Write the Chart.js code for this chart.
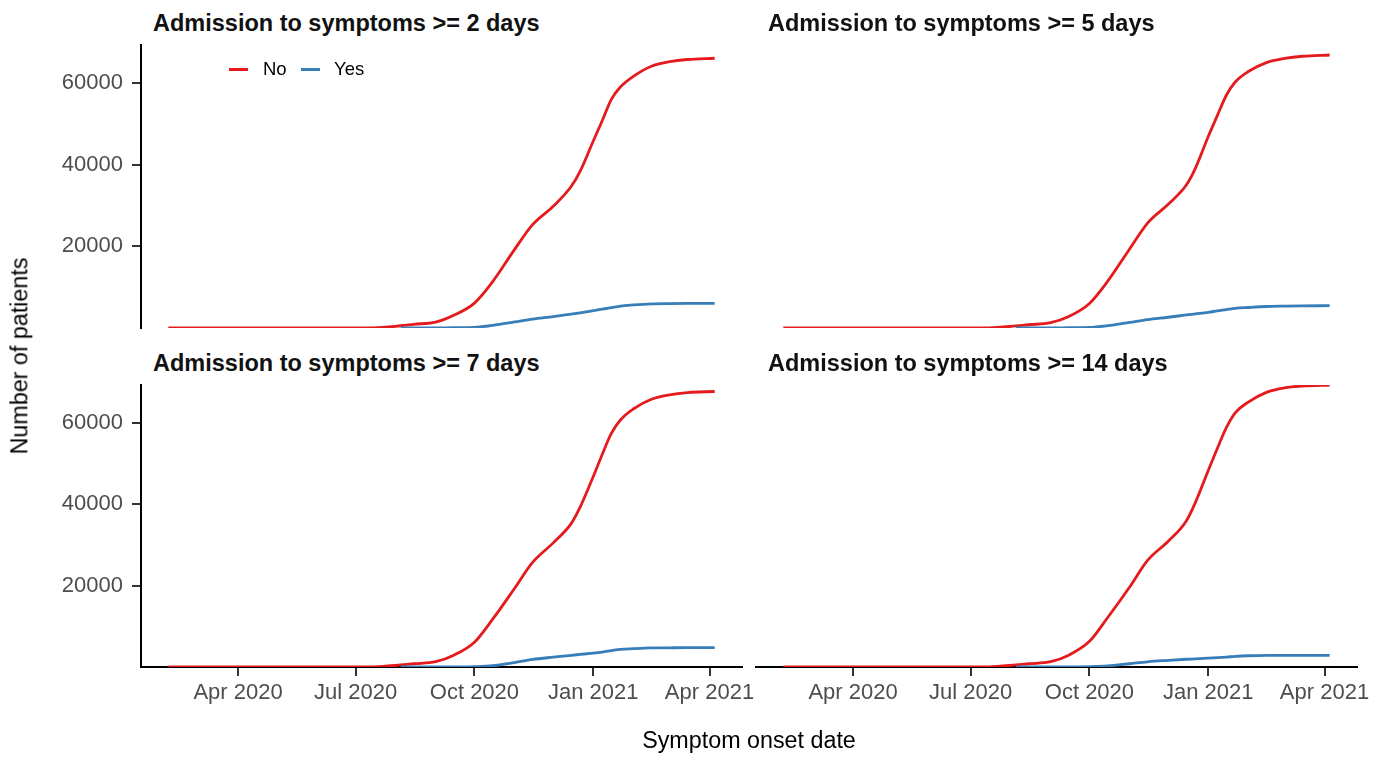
<!DOCTYPE html>
<html>
<head>
<meta charset="utf-8">
<script src="https://cdn.jsdelivr.net/npm/chart.js@4.4.1/dist/chart.umd.min.js"></script>
<style>
  body { margin: 0; background: #fff; }
  #wrap { position: relative; width: 1387px; height: 757px; overflow: hidden; font-family: "Liberation Sans", Arial, sans-serif; }
  canvas { position: absolute; }
  .title { position: absolute; font-weight: bold; font-size: 23.5px; line-height: 23.5px; color: #111; white-space: nowrap; }
  .axtitle { position: absolute; font-size: 23.3px; line-height: 23.3px; color: #000; white-space: nowrap; transform: translate(-50%, -50%); }
  .key { position: absolute; height: 3px; width: 19px; }
  .ltext { position: absolute; font-size: 18.5px; line-height: 18.5px; color: #000; }
</style>
</head>
<body>
<div id="wrap">
  <canvas id="c0"></canvas>
  <canvas id="c1"></canvas>
  <canvas id="c2"></canvas>
  <canvas id="c3"></canvas>
  <div class="title" id="t0"></div>
  <div class="title" id="t1"></div>
  <div class="title" id="t2"></div>
  <div class="title" id="t3"></div>
  <div class="key" style="left:229px; top:68px; background:#E41A1C;"></div>
  <div class="ltext" style="left:263px; top:60px;">No</div>
  <div class="key" style="left:301px; top:68px; background:#377EB8;"></div>
  <div class="ltext" style="left:334px; top:60px;">Yes</div>
  <div class="axtitle" style="left:20px; top:356px; transform: translate(-50%, -50%) rotate(-90deg);">Number of patients</div>
  <div class="axtitle" style="left:749px; top:741px;">Symptom onset date</div>
</div>
<script>
// symptom onset dates (cumulative counts)
const dates = ["2020-02-07", "2020-04-01", "2020-06-01", "2020-07-15", "2020-08-05", "2020-08-15",
  "2020-09-01", "2020-09-15", "2020-10-01", "2020-10-15", "2020-11-01", "2020-11-15",
  "2020-12-01", "2020-12-15", "2020-12-22", "2021-01-01", "2021-01-08", "2021-01-15",
  "2021-01-22", "2021-02-01", "2021-02-15", "2021-03-01", "2021-03-15", "2021-04-05"];

const no2 = [0, 0, 0, 50, 550, 900, 1450, 3100, 6100, 11300, 19200, 25300, 29800, 34700, 38500, 45800, 50800, 56000, 59000, 61600, 64100, 65200, 65750, 66050];
const yes2 = [null, null, null, null, 0, 0, 20, 60, 120, 650, 1480, 2190, 2800, 3410, 3700, 4260, 4600, 4990, 5380, 5640, 5890, 5960, 6010, 6050];
const no5 = [0, 0, 0, 50, 500, 800, 1300, 2800, 6000, 11400, 19300, 25700, 30300, 35000, 39100, 46900, 52000, 57000, 60300, 62800, 65000, 66000, 66550, 66850];
const yes5 = [null, null, null, null, 0, 0, 20, 60, 130, 560, 1350, 2030, 2630, 3190, 3460, 3850, 4180, 4490, 4810, 5020, 5260, 5350, 5410, 5460];
const no7 = [0, 0, 0, 50, 500, 800, 1300, 2900, 6100, 11700, 19300, 25700, 30500, 35300, 39400, 46800, 52300, 57400, 60700, 63400, 65800, 66900, 67450, 67700];
const yes7 = [null, null, null, null, 0, 0, 10, 40, 100, 320, 1100, 1850, 2420, 2880, 3100, 3420, 3680, 4010, 4330, 4510, 4690, 4720, 4740, 4750];
const no14 = [0, 0, 0, 50, 500, 800, 1300, 2900, 6300, 12100, 19600, 26200, 30900, 35900, 40400, 48300, 53700, 58800, 62500, 65100, 67500, 68600, 69050, 69300];
const yes14 = [null, null, null, null, 0, 0, 10, 30, 80, 250, 800, 1280, 1630, 1900, 2000, 2170, 2300, 2450, 2620, 2760, 2860, 2870, 2870, 2870];

const panelTitles = ["Admission to symptoms >= 2 days", "Admission to symptoms >= 5 days",
  "Admission to symptoms >= 7 days", "Admission to symptoms >= 14 days"];
const seriesLabels = ["No", "Yes"];

const tickDates = ["2020-04-01", "2020-07-01", "2020-10-01", "2021-01-01", "2021-04-01"];
const tickLabels = ["Apr 2020", "Jul 2020", "Oct 2020", "Jan 2021", "Apr 2021"];
const yTicks = [20000, 40000, 60000];

const toDay = s => Date.parse(s + "T00:00:00Z") / 86400000;
const days = dates.map(toDay);
const tickDays = tickDates.map(toDay);

// ggplot-like 5% expansion on x, none on y
const span = days[days.length - 1] - days[0];
const xMin = days[0] - 0.05 * span;
const xMax = days[days.length - 1] + 0.05 * span;
const yMax = Math.max(...no2, ...no5, ...no7, ...no14);

const FONT = "'Liberation Sans', Arial, sans-serif";
const PAD = 6, RPAD = 30, YW = 141, XH = 70;
const PW = 601;
const panels = [
  { no: no2, yes: yes2, L: 141, T: 45, H: 283, showX: false, showY: true },
  { no: no5, yes: yes5, L: 756, T: 45, H: 283, showX: false, showY: false },
  { no: no7, yes: yes7, L: 141, T: 385, H: 282, showX: true, showY: true },
  { no: no14, yes: yes14, L: 756, T: 385, H: 282, showX: true, showY: false }
];

panels.forEach((p, i) => {
  const cv = document.getElementById("c" + i);
  const left = p.showY ? 0 : p.L - PAD;
  const w = (p.showY ? YW : PAD) + PW + RPAD;
  const h = PAD + p.H + (p.showX ? XH : PAD);
  cv.width = w; cv.height = h;
  cv.style.left = left + "px";
  cv.style.top = (p.T - PAD) + "px";
  cv.style.width = w + "px"; cv.style.height = h + "px";

  const t = document.getElementById("t" + i);
  t.textContent = panelTitles[i];
  t.style.left = (p.L + 12) + "px";
  t.style.top = (p.T - 33) + "px";

  const pts = arr => arr.map((v, k) => ({ x: days[k], y: v }));

  new Chart(cv, {
    type: "line",
    data: {
      datasets: [
        { label: seriesLabels[0], data: pts(p.no), borderColor: "#E41A1C", order: 1 },
        { label: seriesLabels[1], data: pts(p.yes), borderColor: "#377EB8", order: 0 }
      ]
    },
    options: {
      responsive: false,
      maintainAspectRatio: false,
      animation: false,
      events: [],
      layout: { padding: { left: p.showY ? 0 : PAD, top: PAD, right: RPAD, bottom: p.showX ? 0 : PAD } },
      plugins: { legend: { display: false }, tooltip: { enabled: false } },
      elements: {
        point: { radius: 0 },
        line: { borderWidth: 2.8, cubicInterpolationMode: "monotone", fill: false }
      },
      scales: {
        x: {
          type: "linear",
          min: xMin, max: xMax,
          display: p.showX,
          afterBuildTicks: s => { s.ticks = tickDays.map(v => ({ value: v })); },
          afterFit: s => {
            if (p.showX) s.height = XH;
            s.paddingLeft = 0; s.paddingRight = 0;
          },
          grid: { drawOnChartArea: false, tickLength: 9, color: "#333", lineWidth: 2 },
          border: { color: "#000", width: 2 },
          ticks: {
            autoSkip: false, maxRotation: 0, padding: 4,
            color: "#4D4D4D", font: { size: 22, family: FONT },
            callback: v => tickLabels[tickDays.indexOf(v)]
          }
        },
        y: {
          type: "linear",
          min: 0, max: yMax,
          display: p.showY,
          afterBuildTicks: s => { s.ticks = yTicks.map(v => ({ value: v })); },
          afterFit: s => {
            if (p.showY) s.width = YW;
            s.paddingTop = 0; s.paddingBottom = 0;
          },
          grid: { drawOnChartArea: false, tickLength: 9, color: "#333", lineWidth: 2 },
          border: { color: "#000", width: 2 },
          ticks: {
            padding: 9,
            color: "#4D4D4D", font: { size: 22, family: FONT },
            callback: v => String(v)
          }
        }
      }
    }
  });
});
</script>
</body>
</html>
